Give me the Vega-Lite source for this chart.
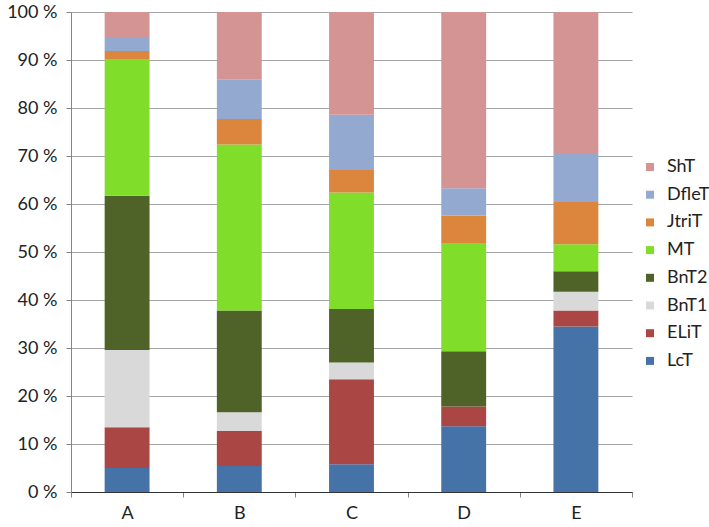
{
  "$schema": "https://vega.github.io/schema/vega-lite/v6.json",
  "width": 561,
  "height": 480,
  "autosize": {"type": "none"},
  "padding": {"left": 71, "top": 12, "right": 77, "bottom": 35},
  "background": "white",
  "config": {
    "view": {"stroke": null},
    "font": "Lato",
    "text": {"font": "Lato"}
  },
  "data": {
    "values": [
      {"cat": "A", "type": "LcT", "k": 1, "v": 5.0},
      {"cat": "A", "type": "ELiT", "k": 2, "v": 8.5},
      {"cat": "A", "type": "BnT1", "k": 3, "v": 16.1},
      {"cat": "A", "type": "BnT2", "k": 4, "v": 32.1},
      {"cat": "A", "type": "MT", "k": 5, "v": 28.5},
      {"cat": "A", "type": "JtriT", "k": 6, "v": 1.7},
      {"cat": "A", "type": "DfleT", "k": 7, "v": 2.7},
      {"cat": "A", "type": "ShT", "k": 8, "v": 5.4},
      {"cat": "B", "type": "LcT", "k": 1, "v": 5.4},
      {"cat": "B", "type": "ELiT", "k": 2, "v": 7.3},
      {"cat": "B", "type": "BnT1", "k": 3, "v": 3.9},
      {"cat": "B", "type": "BnT2", "k": 4, "v": 21.2},
      {"cat": "B", "type": "MT", "k": 5, "v": 34.6},
      {"cat": "B", "type": "JtriT", "k": 6, "v": 5.3},
      {"cat": "B", "type": "DfleT", "k": 7, "v": 8.2},
      {"cat": "B", "type": "ShT", "k": 8, "v": 14.1},
      {"cat": "C", "type": "LcT", "k": 1, "v": 5.8},
      {"cat": "C", "type": "ELiT", "k": 2, "v": 17.7},
      {"cat": "C", "type": "BnT1", "k": 3, "v": 3.5},
      {"cat": "C", "type": "BnT2", "k": 4, "v": 11.1},
      {"cat": "C", "type": "MT", "k": 5, "v": 24.3},
      {"cat": "C", "type": "JtriT", "k": 6, "v": 4.7},
      {"cat": "C", "type": "DfleT", "k": 7, "v": 11.5},
      {"cat": "C", "type": "ShT", "k": 8, "v": 21.4},
      {"cat": "D", "type": "LcT", "k": 1, "v": 13.7},
      {"cat": "D", "type": "ELiT", "k": 2, "v": 4.1},
      {"cat": "D", "type": "BnT1", "k": 3, "v": 0},
      {"cat": "D", "type": "BnT2", "k": 4, "v": 11.5},
      {"cat": "D", "type": "MT", "k": 5, "v": 22.6},
      {"cat": "D", "type": "JtriT", "k": 6, "v": 5.7},
      {"cat": "D", "type": "DfleT", "k": 7, "v": 5.7},
      {"cat": "D", "type": "ShT", "k": 8, "v": 36.7},
      {"cat": "E", "type": "LcT", "k": 1, "v": 34.5},
      {"cat": "E", "type": "ELiT", "k": 2, "v": 3.3},
      {"cat": "E", "type": "BnT1", "k": 3, "v": 3.9},
      {"cat": "E", "type": "BnT2", "k": 4, "v": 4.3},
      {"cat": "E", "type": "MT", "k": 5, "v": 5.6},
      {"cat": "E", "type": "JtriT", "k": 6, "v": 8.8},
      {"cat": "E", "type": "DfleT", "k": 7, "v": 10.2},
      {"cat": "E", "type": "ShT", "k": 8, "v": 29.4}
    ]
  },
  "mark": {"type": "bar", "width": {"band": 0.4}},
  "encoding": {
    "x": {
      "field": "cat",
      "type": "nominal",
      "scale": {"paddingInner": 0, "paddingOuter": 0},
      "axis": {
        "title": null,
        "labelAngle": 0,
        "labelFontSize": 18,
        "labelColor": "#222222",
        "labelPadding": 7,
        "tickBand": "extent",
        "tickSize": 5,
        "tickColor": "#868686",
        "domainColor": "#333333",
        "domainWidth": 1.2,
        "grid": false
      }
    },
    "y": {
      "field": "v",
      "type": "quantitative",
      "stack": "zero",
      "scale": {"domain": [0, 100], "nice": false},
      "axis": {
        "title": null,
        "values": [0, 10, 20, 30, 40, 50, 60, 70, 80, 90, 100],
        "labelExpr": "datum.value + ' %'",
        "labelFontSize": 18,
        "labelColor": "#222222",
        "labelPadding": 9,
        "tickSize": 5,
        "tickColor": "#868686",
        "domainColor": "#868686",
        "gridColor": "#a6a6a6",
        "gridWidth": 1.2
      }
    },
    "order": {"field": "k", "type": "quantitative"},
    "color": {
      "field": "type",
      "type": "nominal",
      "scale": {
        "domain": ["ShT", "DfleT", "JtriT", "MT", "BnT2", "BnT1", "ELiT", "LcT"],
        "range": ["#d49494", "#93a9cf", "#dc853c", "#80de2b", "#4f6228", "#d9d9d9", "#aa4643", "#4572a7"]
      },
      "legend": {
        "title": null,
        "orient": "none",
        "legendX": 570,
        "legendY": 146,
        "symbolType": "square",
        "symbolSize": 64,
        "symbolStrokeWidth": 0,
        "labelFontSize": 18,
        "labelColor": "#222222",
        "labelOffset": 8,
        "rowPadding": 9.7
      }
    }
  }
}
